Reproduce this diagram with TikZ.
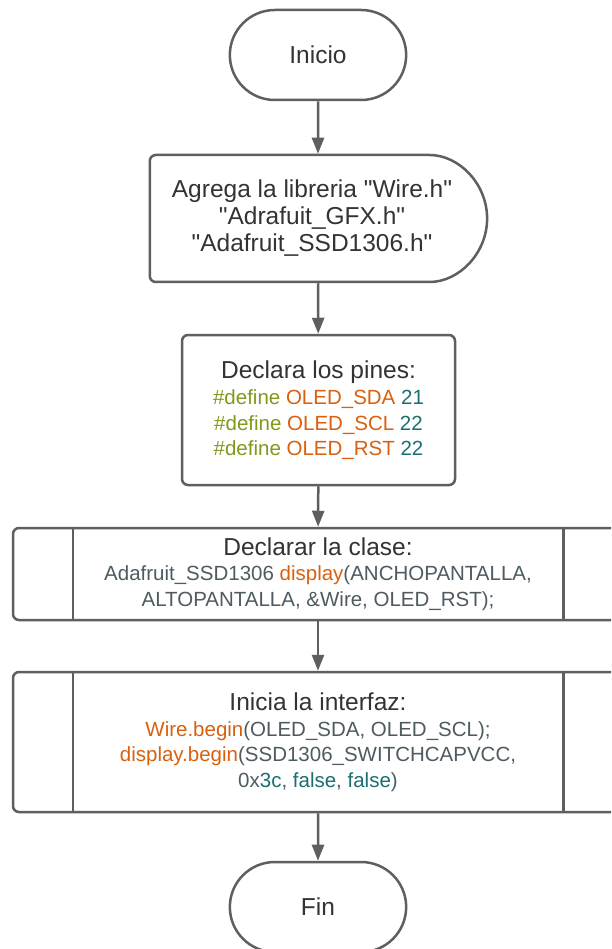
\documentclass[tikz,border=0pt]{standalone}
\usepackage{fontspec}
\setmainfont{Liberation Sans}[Ligatures=TeXOff]
\usetikzlibrary{arrows.meta,shapes.misc}
\definecolor{linGris}{HTML}{5F5F5F}
\definecolor{txtOscuro}{HTML}{333333}
\definecolor{codGris}{HTML}{4E5B61}
\definecolor{codNaranja}{HTML}{D9600F}
\definecolor{codVerde}{HTML}{7E9A1B}
\definecolor{codTeal}{HTML}{1B6F70}
\newcommand{\titulo}{\fontsize{24.5}{27}\selectfont\color{txtOscuro}}
\newcommand{\codigo}{\fontsize{20.5}{25.5}\selectfont\color{codGris}}

\begin{document}
\begin{tikzpicture}[x=1pt, y=-1pt,
      terminal/.style={rounded rectangle, draw=linGris, line width=2.5pt, fill=white,
                       minimum width=183pt, minimum height=90pt, font=\titulo},
      retraso/.style={rounded rectangle, rounded rectangle west arc=none, rounded corners=6pt,
                      draw=linGris, line width=2.5pt, fill=white, minimum width=344pt,
                      minimum height=127pt, align=center, font=\titulo},
      caja/.style={rectangle, rounded corners=6pt, draw=linGris, line width=2.5pt, fill=white,
                   minimum width=#1, align=center, font=\codigo},
      flecha/.style={-{Triangle[length=16pt,width=12pt]}, draw=linGris, line width=2.5pt}]
    \useasboundingbox (0,0) rectangle (611,949);
    \clip (0,0) rectangle (611,949);
    \fill[white] (0,0) rectangle (611,949);
    % Inicio
    \node[terminal] (ini) at (318,55) {Inicio};
    % Librerias
    \node[retraso] (lib) at (312,218.5) {Agrega la libreria "Wire.h"\\
      "Adrafuit\_GFX.h"\\ "Adafruit\_SSD1306.h"};
    % Pines
    \node[caja=273pt, minimum height=150pt] (pin) at (318.5,410) {%
      {\titulo Declara los pines:}\\[1pt]
      \textcolor{codVerde}{\#define} \textcolor{codNaranja}{OLED\_SDA} \textcolor{codTeal}{21}\\
      \textcolor{codVerde}{\#define} \textcolor{codNaranja}{OLED\_SCL} \textcolor{codTeal}{22}\\
      \textcolor{codVerde}{\#define} \textcolor{codNaranja}{OLED\_RST} \textcolor{codTeal}{22}};
    % Clase
    \node[caja=610pt, minimum height=92pt] (cls) at (318,574) {%
      {\titulo Declarar la clase:}\\
      Adafruit\_SSD1306 \textcolor{codNaranja}{display}(ANCHOPANTALLA,\\
      ALTOPANTALLA, \&Wire, OLED\_RST);};
    \draw[linGris, line width=2.5pt] ([xshift=61pt]cls.north west) -- ([xshift=61pt]cls.south west)
      ([xshift=-61pt]cls.north east) -- ([xshift=-61pt]cls.south east);
    % Interfaz
    \node[caja=610pt, minimum height=140pt] (itf) at (318,742) {%
      {\titulo Inicia la interfaz:}\\
      \textcolor{codNaranja}{Wire.begin}(OLED\_SDA, OLED\_SCL);\\
      \textcolor{codNaranja}{display.begin}(SSD1306\_SWITCHCAPVCC,\\
      0x\textcolor{codTeal}{3c}, \textcolor{codTeal}{false}, \textcolor{codTeal}{false})};
    \draw[linGris, line width=2.5pt] ([xshift=61pt]itf.north west) -- ([xshift=61pt]itf.south west)
      ([xshift=-61pt]itf.north east) -- ([xshift=-61pt]itf.south east);
    % Fin
    \node[terminal] (fin) at (318,907) {Fin};
    % Flechas
    \draw[flecha] (ini) -- (ini |- lib.north);
    \draw[flecha] (ini |- lib.south) -- (pin);
    \draw[flecha] (pin) -- (cls);
    \draw[flecha] (cls) -- (itf);
    \draw[flecha] (itf) -- (fin);
  \end{tikzpicture}
\end{document}
